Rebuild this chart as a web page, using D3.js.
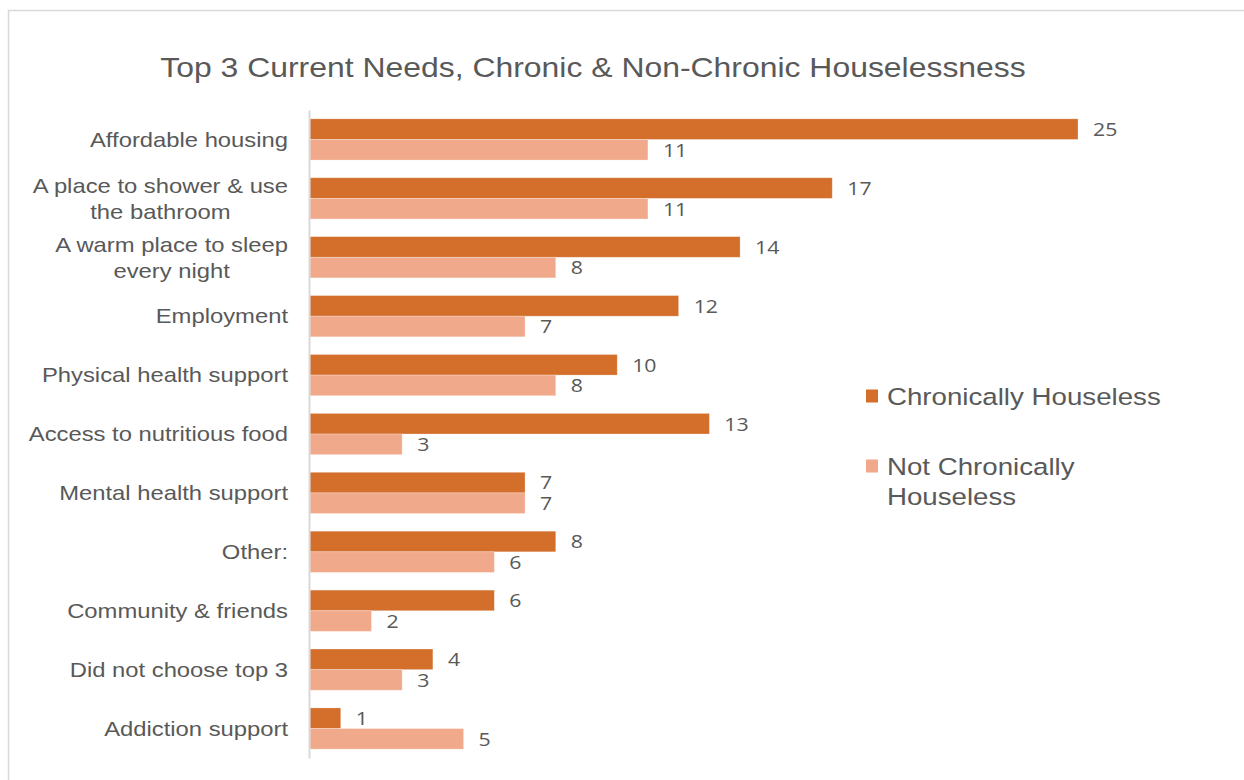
<!DOCTYPE html>
<html>
<head>
<meta charset="utf-8">
<script src="https://cdn.jsdelivr.net/npm/d3@7"></script>
<style>
  html, body { margin: 0; padding: 0; background: #fff; }
  svg { display: block; }
</style>
</head>
<body>
<svg id="chart" width="1244" height="780"></svg>
<script>
// Survey responses: top three current needs
const categories = [
  "Affordable housing",
  "A place to shower & use the bathroom",
  "A warm place to sleep every night",
  "Employment",
  "Physical health support",
  "Access to nutritious food",
  "Mental health support",
  "Other:",
  "Community & friends",
  "Did not choose top 3",
  "Addiction support"
];
// Wrapped category labels, one array per category
const categoryLines = [
  ["Affordable housing"],
  ["A place to shower & use", "the bathroom"],
  ["A warm place to sleep", "every night"],
  ["Employment"],
  ["Physical health support"],
  ["Access to nutritious food"],
  ["Mental health support"],
  ["Other:"],
  ["Community & friends"],
  ["Did not choose top 3"],
  ["Addiction support"]
];
const chronic    = [25, 17, 14, 12, 10, 13, 7, 8, 6, 4, 1];
const nonChronic = [11, 11, 8, 7, 8, 3, 7, 6, 2, 3, 5];
const seriesNames = ["Chronically Houseless", "Not Chronically Houseless"];
const legendLines = [["Chronically Houseless"], ["Not Chronically", "Houseless"]];
const colors = ["#D36E2B", "#F1A98B"];
const title = "Top 3 Current Needs, Chronic & Non-Chronic Houselessness";

const svg = d3.select("#chart");
const textColor = "#595959";
const sansFont = "Liberation Sans, Arial, sans-serif";

// text drawn slightly wide: anchor at (x, y) and stretch horizontally
function wideText(parent, x, y, sx) {
  return parent.append("text")
    .attr("transform", `translate(${x},${y}) scale(${sx},1)`);
}

// chart frame
svg.append("rect")
  .attr("x", 8.5).attr("y", 10.5)
  .attr("width", 1260).attr("height", 800)
  .attr("fill", "#fff")
  .attr("stroke", "#d9d9d9").attr("stroke-width", 1.5);

wideText(svg, 593, 77, 1.12)
  .attr("text-anchor", "middle")
  .attr("font-family", sansFont)
  .attr("font-size", 28.5)
  .attr("fill", textColor)
  .text(title);

const x0 = 310;
const x = d3.scaleLinear().domain([0, 25]).range([x0, 1078]);
const y = d3.scaleBand().domain(categories).range([110, 758])
  .paddingInner(0.3).paddingOuter(0.15);
const sub = d3.scaleBand().domain([0, 1]).range([0, y.bandwidth()]);

const rows = categories.map((c, i) => ({ c, i, vals: [chronic[i], nonChronic[i]] }));

const g = svg.append("g");
const groups = g.selectAll("g.cat").data(rows).join("g")
  .attr("class", "cat")
  .attr("transform", d => `translate(0,${y(d.c)})`);

groups.selectAll("rect").data(d => d.vals.map((v, k) => ({ v, k }))).join("rect")
  .attr("x", x(0))
  .attr("y", d => sub(d.k))
  .attr("width", d => x(d.v) - x(0))
  .attr("height", sub.bandwidth())
  .attr("fill", d => colors[d.k])
  .attr("stroke", "#fff").attr("stroke-opacity", 0.35).attr("stroke-width", 0.75);

groups.each(function (d) {
  const grp = d3.select(this);
  d.vals.forEach((v, k) => {
    wideText(grp, x(v) + 15, sub(k) + sub.bandwidth() / 2, 1.12)
      .attr("class", "val")
      .attr("dy", "0.36em")
      .attr("font-family", "Open Sans, sans-serif")
      .attr("font-size", 19)
      .attr("fill", textColor)
      .text(v);
  });
});

// vertical category axis
const yAxis = svg.append("g")
  .attr("transform", `translate(${x0 - 1},0)`)
  .call(d3.axisLeft(y).tickSize(0).tickFormat(""));
yAxis.select(".domain").attr("stroke", "#d9d9d9").attr("stroke-width", 2);

// category labels, wrapped lines centred on each other, right-aligned as a block
const labelRight = 288;
const lineH = 26;
const labelScale = 1.15;
rows.forEach(d => {
  const lines = categoryLines[d.i];
  const cy = y(d.c) + y.bandwidth() / 2;
  const t = wideText(svg, labelRight, cy, labelScale)
    .attr("font-family", sansFont)
    .attr("font-size", 20.7)
    .attr("fill", textColor)
    .attr("text-anchor", "middle");
  const spans = lines.map((ln, j) => t.append("tspan")
    .attr("y", (j - (lines.length - 1) / 2) * lineH)
    .attr("dy", "0.35em")
    .text(ln));
  const widest = d3.max(spans, s => s.node().getComputedTextLength());
  spans.forEach(s => s.attr("x", -widest / 2));
});

// legend
const legendY = [396, 466];
seriesNames.forEach((name, k) => {
  const lg = svg.append("g").attr("transform", `translate(866,${legendY[k]})`);
  lg.append("rect").attr("x", 0).attr("y", -6.5).attr("width", 12).attr("height", 13)
    .attr("fill", colors[k]);
  const t = wideText(lg, 21, 0, 1.13)
    .attr("font-family", sansFont)
    .attr("font-size", 24.5)
    .attr("fill", textColor);
  legendLines[k].forEach((ln, j) => t.append("tspan")
    .attr("x", 0).attr("y", j * 30).attr("dy", "0.36em").text(ln));
});
</script>
</body>
</html>
